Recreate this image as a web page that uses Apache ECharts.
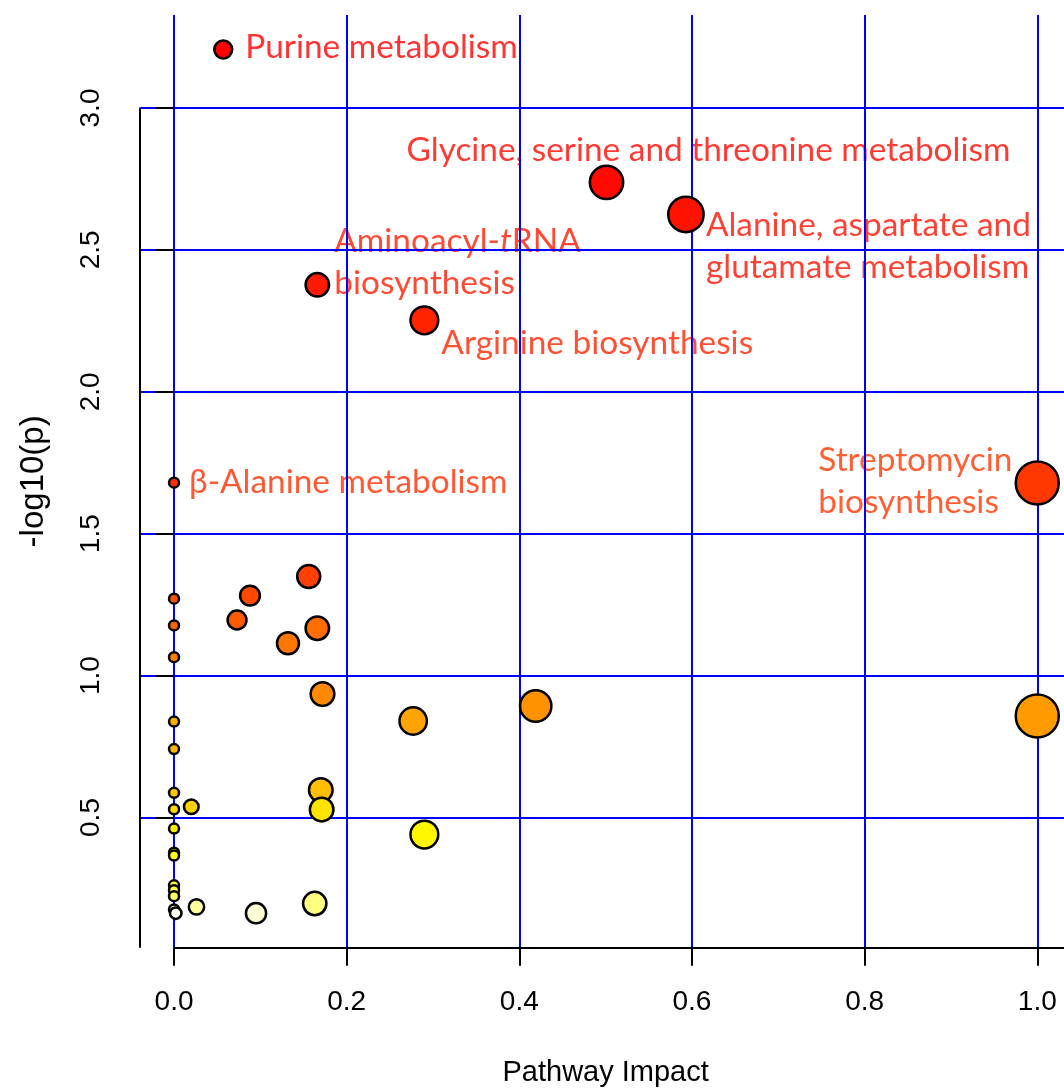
<!DOCTYPE html>
<html>
<head>
<meta charset="utf-8">
<script src="https://cdn.jsdelivr.net/npm/echarts@6/dist/echarts.min.js"></script>
<style>
  html, body { margin: 0; padding: 0; background: #ffffff; overflow: hidden; }
  #chart { width: 1064px; height: 1089px; }
</style>
</head>
<body>
<div id="chart"></div>
<script>
// Pathway analysis results, ordered from most to least significant
const pathwayNames = [
  'Purine metabolism',
  'Glycine, serine and threonine metabolism',
  'Alanine, aspartate and glutamate metabolism',
  'Aminoacyl-tRNA biosynthesis',
  'Arginine biosynthesis',
  'β-Alanine metabolism',
  'Streptomycin biosynthesis',
  '', '', '', '', '', '', '', '', '', '', '', '', '', '', '', '', '',
  '', '', '', '', '', '', '', '', '', '', '', '', '', ''
];
const impact = [
  0.057, 0.501, 0.593, 0.166, 0.290, 0.000, 1.000,
  0.156, 0.088, 0.000, 0.073, 0.000, 0.166, 0.132, 0.000,
  0.172, 0.419, 1.000, 0.277, 0.000, 0.000, 0.170, 0.000,
  0.020, 0.000, 0.171, 0.000, 0.290, 0.000, 0.000, 0.000,
  0.000, 0.000, 0.163, 0.026, 0.000, 0.095, 0.002
];
const negLog10P = [
  3.206, 2.738, 2.625, 2.377, 2.252, 1.680, 1.679,
  1.349, 1.282, 1.271, 1.196, 1.177, 1.167, 1.114, 1.065,
  0.935, 0.893, 0.858, 0.840, 0.838, 0.741, 0.597, 0.587,
  0.538, 0.529, 0.528, 0.461, 0.440, 0.376, 0.366, 0.261,
  0.244, 0.223, 0.197, 0.185, 0.176, 0.163, 0.163
];
const xTicks = [0.0, 0.2, 0.4, 0.6, 0.8, 1.0];
const yTicks = [0.5, 1.0, 1.5, 2.0, 2.5, 3.0];

// Where each pathway name sits relative to its circle (pixels), and how it wraps
const labelPlacement = {
  'Purine metabolism': { dx: 22, dy: -2, text: 'Purine metabolism' },
  'Glycine, serine and threonine metabolism': { dx: -200, dy: -32, text: 'Glycine, serine and threonine metabolism' },
  'Alanine, aspartate and glutamate metabolism': { dx: 20, dy: 32, text: 'Alanine, aspartate and\nglutamate metabolism' },
  'Aminoacyl-tRNA biosynthesis': { dx: 17, dy: -23, text: 'Aminoacyl-{it|t}RNA\nbiosynthesis' },
  'Arginine biosynthesis': { dx: 17, dy: 23, text: 'Arginine biosynthesis' },
  'β-Alanine metabolism': { dx: 15, dy: 0, text: 'β-Alanine metabolism' },
  'Streptomycin biosynthesis': { dx: -219, dy: -2, text: 'Streptomycin\nbiosynthesis' }
};

// R-style heat palette: red -> yellow, then yellow -> pale
function heatColors(n) {
  const j = Math.floor(n / 4);
  const i = n - j;
  const hex = v => v.toString(16).padStart(2, '0');
  const out = [];
  for (let k = 0; k < i; k++) {
    const g = Math.round(255 * k / (i - 1));
    out.push('#ff' + hex(g) + '00');
  }
  const s0 = 1 - 1 / (2 * j), s1 = 1 / (2 * j);
  for (let m = 0; m < j; m++) {
    const s = j > 1 ? s0 + (s1 - s0) * m / (j - 1) : s0;
    out.push('#ffff' + hex(Math.round(255 * (1 - s))));
  }
  return out;
}

// colour by significance rank
const order = negLog10P.map((v, k) => k).sort((a, b) => negLog10P[b] - negLog10P[a] || a - b);
const palette = heatColors(negLog10P.length);
const pointColor = [];
order.forEach((idx, rank) => { pointColor[idx] = palette[rank]; });

// plot range padded by 4% on each side
const pad = (lo, hi) => [lo - 0.04 * (hi - lo), hi + 0.04 * (hi - lo)];
const [xMin, xMax] = pad(Math.min(...impact), Math.max(...impact));
const [yMin, yMax] = pad(Math.min(...negLog10P), Math.max(...negLog10P));

const axisFont = 'Liberation Sans, Arial, sans-serif';
const labelFont = 'Lato, Noto Sans, sans-serif';
const labelSize = 33.4;
const gridBlue = '#0000ff';

const pointData = impact.map((x, k) => ({
  value: [x, negLog10P[k]],
  itemStyle: { color: pointColor[k] }
}));

const labelData = [];
pathwayNames.forEach((name, k) => {
  if (!name) return;
  const p = labelPlacement[name];
  labelData.push({
    value: [impact[k], negLog10P[k]],
    label: {
      show: true,
      position: [p.dx, p.dy],
      align: 'left',
      verticalAlign: 'middle',
      formatter: p.text,
      color: pointColor[k],
      fontFamily: labelFont,
      fontSize: labelSize,
      lineHeight: 42,
      rich: {
        it: { fontStyle: 'italic', fontFamily: labelFont, fontSize: labelSize, lineHeight: 42, color: pointColor[k] }
      }
    }
  });
});

const chart = echarts.init(document.getElementById('chart'), null, { renderer: 'canvas' });
chart.setOption({
  animation: false,
  backgroundColor: '#ffffff',
  grid: {
    left: 139.5, top: 15, width: 932.3, height: 932.7,
    containLabel: false,
    outerBoundsMode: 'none'
  },
  xAxis: {
    type: 'value',
    min: xMin,
    max: xMax,
    z: 3,
    name: 'Pathway Impact',
    nameLocation: 'middle',
    nameGap: 111,
    nameTextStyle: { fontFamily: axisFont, fontSize: 29, color: '#000' },
    axisLine: { show: false },
    axisTick: { show: true, customValues: xTicks, length: 18, lineStyle: { color: '#000', width: 2 } },
    axisLabel: { show: true, customValues: xTicks, margin: 41, fontFamily: axisFont, fontSize: 28, color: '#000',
      formatter: v => v.toFixed(1) },
    splitLine: { show: true, lineStyle: { color: gridBlue, width: 2 } }
  },
  yAxis: {
    type: 'value',
    min: yMin,
    max: yMax,
    z: 3,
    name: '-log10(p)',
    nameLocation: 'middle',
    nameGap: 89,
    nameRotate: 90,
    nameTextStyle: { fontFamily: axisFont, fontSize: 33, color: '#000' },
    axisLine: { show: false },
    axisTick: { show: true, customValues: yTicks, length: 18, lineStyle: { color: '#000', width: 2 } },
    axisLabel: { show: true, customValues: yTicks, rotate: 90, margin: 34, fontFamily: axisFont, fontSize: 28, color: '#000',
      formatter: v => v.toFixed(1) },
    splitLine: { show: true, lineStyle: { color: gridBlue, width: 2 } }
  },
  series: [
    {
      // pathway names, drawn beneath the grid lines
      type: 'scatter',
      z: 1,
      silent: true,
      symbolSize: 0,
      clip: false,
      data: labelData
    },
    {
      // axis frame lines
      type: 'scatter',
      z: 4,
      silent: true,
      clip: false,
      data: [],
      markLine: {
        silent: true,
        animation: false,
        symbol: ['none', 'none'],
        label: { show: false },
        lineStyle: { color: '#000', width: 2, type: 'solid' },
        data: [
          [{ coord: [xMin, yTicks[yTicks.length - 1]] }, { coord: [xMin, yMin] }],
          [{ coord: [xTicks[0], yMin] }, { coord: [xMax, yMin] }]
        ]
      }
    },
    {
      type: 'scatter',
      z: 5,
      silent: true,
      clip: false,
      symbol: 'circle',
      symbolSize: v => 10 + 33 * Math.sqrt(v[0]),
      itemStyle: { borderColor: '#000', borderWidth: 2.5, opacity: 1 },
      data: pointData
    }
  ]
});
</script>
</body>
</html>
